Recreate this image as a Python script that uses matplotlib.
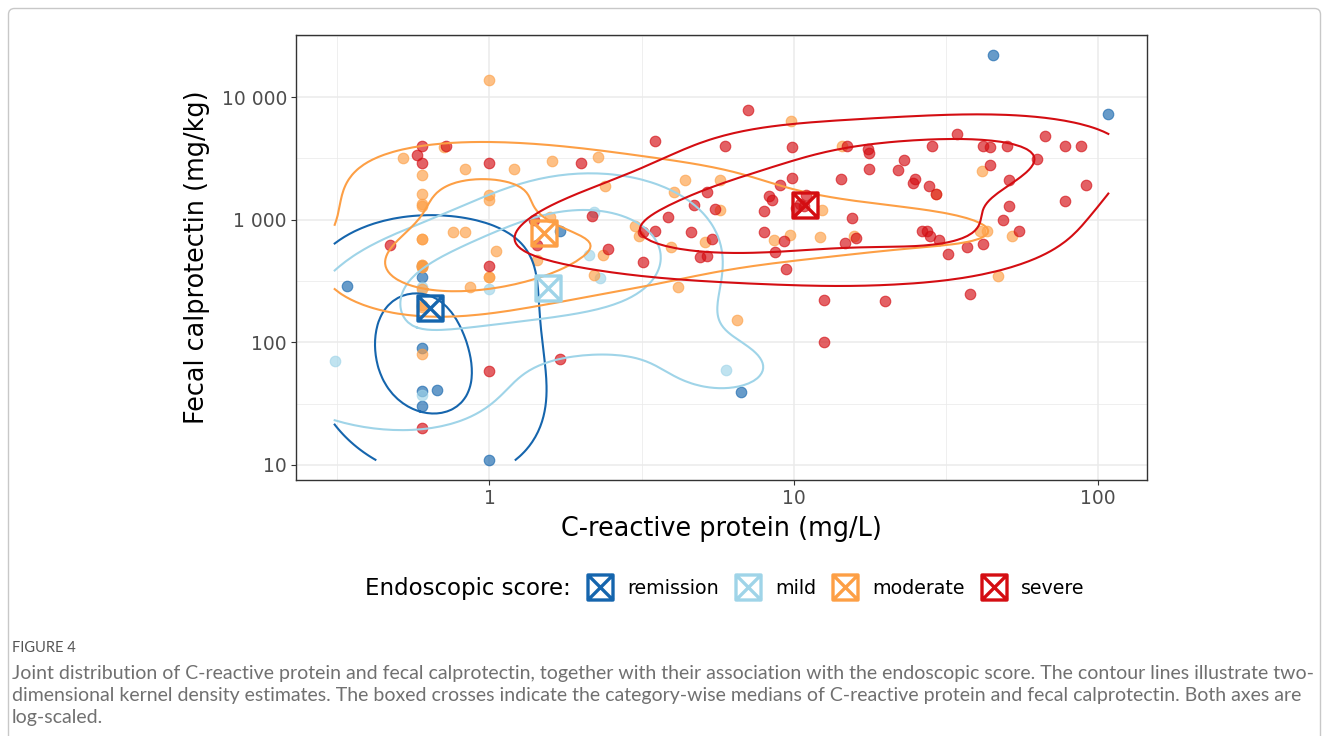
import numpy as np
import matplotlib
matplotlib.use("Agg")
import matplotlib.pyplot as plt
import contourpy
from matplotlib.path import Path
from matplotlib.lines import Line2D
from matplotlib.patches import FancyBboxPatch
from matplotlib.transforms import IdentityTransform
from matplotlib.ticker import FixedLocator, FuncFormatter, NullFormatter

# ---------------------------------------------------------------- data
categories = ["remission", "mild", "moderate", "severe"]
colors = ["#1565ad", "#9fd4e8", "#fd9f45", "#d40d12"]

remission_crp = [0.34, 0.6, 0.6, 0.6, 0.6, 0.67, 0.6, 1.0, 1.7, 6.7, 45, 108]
remission_fcp = [290, 340, 420, 90, 40, 41, 30, 11, 810, 39, 22000, 7300]

mild_crp = [0.31, 0.6, 1.0, 2.12, 2.31, 6.0, 0.6, 2.2]
mild_fcp = [70, 285, 270, 520, 336, 59, 37, 1150]

moderate_crp = [1.0, 0.71, 0.52, 0.83, 0.6, 0.6, 0.6, 0.6, 1.0, 1.0, 1.2, 0.76,
                0.83, 0.6, 1.05, 0.6, 0.6, 0.86, 1.0, 0.6, 0.6, 1.6, 2.27, 2.4,
                4.4, 4.05, 5.7, 5.7, 1.58, 1.43, 2.36, 2.2, 3.0, 3.1, 3.95, 5.1,
                4.15, 6.5, 9.8, 14.4, 12.4, 9.7, 12.2, 15.8, 8.6, 41.5, 29.4,
                41, 43, 52, 47,
                0.6, 0.6, 0.6, 0.6, 1.0, 0.6]
moderate_fcp = [13700, 3900, 3200, 2600, 2300, 1620, 1340, 1300, 1600, 1450, 2600, 800,
                800, 690, 560, 430, 410, 280, 340, 195, 80, 3000, 3250, 1900,
                2100, 1700, 2100, 1200, 1060, 465, 520, 357, 890, 740, 600, 660,
                280, 153, 6400, 4000, 1190, 750, 720, 740, 680, 2500, 1620,
                810, 810, 740, 350,
                430, 410, 270, 700, 340, 200]

severe_crp = [0.6, 0.72, 0.58, 0.6, 1.0, 0.47, 1.0, 1.0, 0.6,
              3.5, 2.0, 5.2, 4.7, 5.5, 3.85, 1.4, 2.18, 1.43, 2.46, 3.2, 3.5, 4.6,
              5.4, 4.9, 5.2, 3.2, 1.7,
              9.4, 12.6, 20, 12.6, 32, 38,
              7.05, 5.95, 9.85, 14.9, 17.5, 17.7, 23, 17.6, 22, 25, 24.7, 27.8,
              14.3, 9.85, 9.0, 8.3, 8.5, 8.0, 11.0, 15.5, 16, 14.7, 8.0, 9.25, 8.7,
              26.3, 27.4, 28,
              34.5, 28.5, 42, 44, 50, 67, 78, 88, 44, 63, 51, 29.4, 91, 78, 51,
              48.5, 55, 30, 37, 42,
              10.5, 10.2, 10.8]
severe_fcp = [4000, 4000, 3400, 2900, 2900, 620, 420, 58, 20,
              4400, 2900, 1700, 1320, 1230, 1050, 1000, 1070, 620, 580, 800, 810, 790,
              690, 500, 510, 450, 73,
              400, 220, 217, 100, 530, 250,
              7800, 4000, 3950, 4000, 3750, 3500, 3070, 2580, 2570, 2150, 2000, 1890,
              2140, 2200, 1920, 1550, 1450, 1170, 1600, 1030, 710, 645, 800, 665, 545,
              810, 810, 730,
              5000, 4000, 4000, 3900, 4000, 4850, 4000, 4000, 2800, 3130, 2100, 1620, 1920, 1430, 1300,
              1000, 810, 680, 600, 635,
              1350, 1250, 1300]

# category-wise medians
median_crp = [0.64, 1.56, 1.51, 10.9]
median_fcp = [190, 277, 784, 1320]

groups_crp = [remission_crp, mild_crp, moderate_crp, severe_crp]
groups_fcp = [remission_fcp, mild_fcp, moderate_fcp, severe_fcp]

x_major = [1, 10, 100]
y_major = [10, 100, 1000, 10000]
# contour heights, as fractions of each category's peak density
contour_levels = [[0.45, 0.88], [0.3, 0.65], [0.37, 0.75], [0.28, 0.67]]


# ---------------------------------------------------------------- helpers
def bandwidth_nrd(v):
    q25, q75 = np.quantile(v, [0.25, 0.75])
    iqr = (q75 - q25) / 1.34
    sd = np.std(v, ddof=1)
    bw = 4 * 1.06 * min(sd, iqr) * len(v) ** (-0.2)
    if bw == 0:
        lo = min(sd, iqr) or sd or abs(v[0]) or 1.0
        bw = 4 * 0.9 * lo * len(v) ** (-0.2)
    return bw


def kde2d(lx, ly, gx, gy):
    hx = bandwidth_nrd(lx) / 4
    hy = bandwidth_nrd(ly) / 4
    dx = np.exp(-0.5 * ((gx[:, None] - lx[None, :]) / hx) ** 2) / np.sqrt(2 * np.pi)
    dy = np.exp(-0.5 * ((gy[:, None] - ly[None, :]) / hy) ** 2) / np.sqrt(2 * np.pi)
    z = dx @ dy.T / (len(lx) * hx * hy)
    return z.T  # rows follow y


def thousands(v, _pos=None):
    return f"{int(round(v)):,}".replace(",", " ")


# boxed cross marker: square outline with both diagonals
boxcross = Path(
    [(-1, -1), (1, -1), (1, 1), (-1, 1), (-1, -1),
     (-1, -1), (1, 1), (-1, 1), (1, -1)],
    [Path.MOVETO, Path.LINETO, Path.LINETO, Path.LINETO, Path.CLOSEPOLY,
     Path.MOVETO, Path.LINETO, Path.MOVETO, Path.LINETO])

# ---------------------------------------------------------------- figure
plt.rcParams["font.family"] = ["DejaVu Sans"]
W, H = 1329, 736
fig = plt.figure(figsize=(W / 100, H / 100), dpi=100)
fig.patch.set_facecolor("white")

ax = fig.add_axes([296 / W, 1 - 480 / H, (1147 - 296) / W, (480 - 35) / H])
ax.set_xscale("log")
ax.set_yscale("log")

all_lx = np.log10(np.concatenate([np.asarray(g, float) for g in groups_crp]))
all_ly = np.log10(np.concatenate([np.asarray(g, float) for g in groups_fcp]))
xr = (all_lx.min(), all_lx.max())
yr = (all_ly.min(), all_ly.max())
ex = 0.05 * (xr[1] - xr[0])
ey = 0.05 * (yr[1] - yr[0])
ax.set_xlim(10 ** (xr[0] - ex), 10 ** (xr[1] + ex))
ax.set_ylim(10 ** (yr[0] - ey), 10 ** (yr[1] + ey))

# grid (major at decades, minor halfway in log space)
ax.xaxis.set_major_locator(FixedLocator(x_major))
ax.yaxis.set_major_locator(FixedLocator(y_major))
ax.xaxis.set_minor_locator(FixedLocator([10 ** -0.5, 10 ** 0.5, 10 ** 1.5]))
ax.yaxis.set_minor_locator(FixedLocator([10 ** 1.5, 10 ** 2.5, 10 ** 3.5, 10 ** 4.5]))
ax.xaxis.set_major_formatter(FuncFormatter(thousands))
ax.yaxis.set_major_formatter(FuncFormatter(thousands))
ax.xaxis.set_minor_formatter(NullFormatter())
ax.yaxis.set_minor_formatter(NullFormatter())
ax.grid(which="major", color="#ebebeb", lw=1.1, zorder=0)
ax.grid(which="minor", color="#ebebeb", lw=0.55, zorder=0)
ax.set_axisbelow(True)
ax.tick_params(which="major", length=3.5, width=0.8, color="#333333",
               labelsize=13.5, labelcolor="#4d4d4d", pad=3)
ax.tick_params(which="minor", length=0)
for sp in ax.spines.values():
    sp.set_color("#333333")
    sp.set_linewidth(1.0)

# points
for crp, fcp, col in zip(groups_crp, groups_fcp, colors):
    ax.scatter(crp, fcp, s=58, color=col, alpha=0.65, edgecolors=col,
               linewidths=0.8, zorder=2)

# 2-D kernel density contours on the log-log scale; for the outermost level,
# isolated closed loops away from the category's main mass are left out
gx = np.linspace(xr[0], xr[1], 160)
gy = np.linspace(yr[0], yr[1], 160)
for crp, fcp, col, lev, mx, my in zip(groups_crp, groups_fcp, colors,
                                      contour_levels, median_crp, median_fcp):
    z = kde2d(np.log10(crp), np.log10(fcp), gx, gy)
    gen = contourpy.contour_generator(gx, gy, z, line_type="Separate")
    centre = (np.log10(mx), np.log10(my))
    for k, frac in enumerate(lev):
        for seg in gen.lines(frac * z.max()):
            closed = np.allclose(seg[0], seg[-1])
            if k == 0 and closed and not Path(seg).contains_point(centre):
                continue
            ax.plot(10 ** seg[:, 0], 10 ** seg[:, 1], color=col, lw=1.5,
                    solid_joinstyle="round", zorder=3)

# medians
for mx, my, col in zip(median_crp, median_fcp, colors):
    ax.plot([mx], [my], ls="none", marker=boxcross, ms=18, mew=2.4,
            mec=col, mfc="none", zorder=4)

ax.set_xlabel("C-reactive protein (mg/L)", fontsize=18.4, labelpad=6)
ax.set_ylabel("Fecal calprotectin (mg/kg)", fontsize=18.4, labelpad=8)

# legend
handles = [Line2D([], [], ls="none", marker=boxcross, ms=18, mew=2.4,
                  mec=c, mfc="none") for c in colors]
fig.text(571 / W, 1 - 588 / H, "Endoscopic score:", ha="right", va="center",
         fontsize=16.5)
fig.legend(handles, categories, loc="center left",
           bbox_to_anchor=(586 / W, 1 - 588 / H), ncol=4, frameon=False,
           fontsize=13.7, handlelength=1.45, handletextpad=0.7,
           columnspacing=0.8, borderpad=0, borderaxespad=0)

# caption
fig.text(12 / W, 1 - 648 / H, "FIGURE 4", ha="left", va="center",
         fontsize=10.5, color="#555555", family=["Lato", "DejaVu Sans"])
caption = [
    "Joint distribution of C-reactive protein and fecal calprotectin, together with their "
    "association with the endoscopic score. The contour lines illustrate two-",
    "dimensional kernel density estimates. The boxed crosses indicate the category-wise "
    "medians of C-reactive protein and fecal calprotectin. Both axes are",
    "log-scaled.",
]
cap_texts = []
for i, line in enumerate(caption):
    t = fig.text(12 / W, 1 - (674 + 22 * i) / H, line, ha="left", va="center",
                 fontsize=12, color="#707070", family=["Lato", "DejaVu Sans"])
    cap_texts.append(t)
renderer = fig.canvas.get_renderer()
w0 = cap_texts[0].get_window_extent(renderer).width
scale = (1308 - 12) / w0
for t in cap_texts:
    t.set_fontsize(12 * scale)

# outer frame
frame = FancyBboxPatch((8.5, -20), 1312, 736 - 8.5 + 20,
                       boxstyle="round,pad=0,rounding_size=6",
                       transform=IdentityTransform(), fill=False,
                       edgecolor="#c8c8c8", lw=1.0)
fig.patches.append(frame)

fig.savefig("out.png", dpi=100)
